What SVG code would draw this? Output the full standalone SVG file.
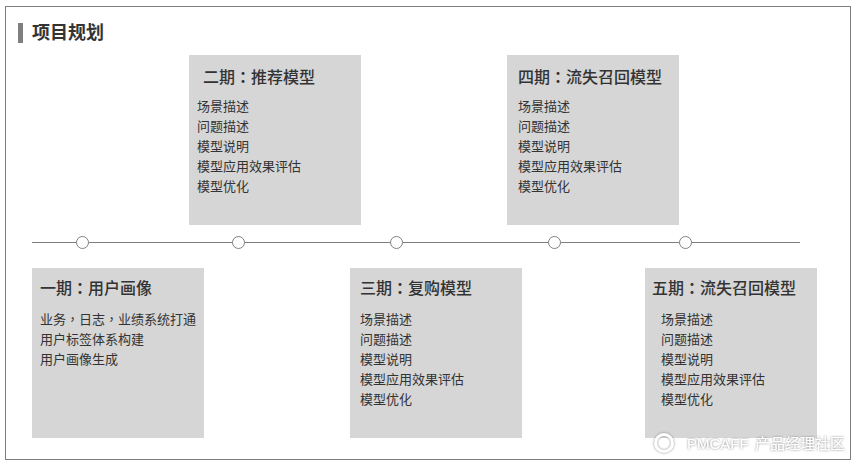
<svg xmlns="http://www.w3.org/2000/svg" width="856" height="464" viewBox="0 0 856 464">
<defs>
<filter id="soft" x="-10%" y="-50%" width="120%" height="200%"><feDropShadow dx="0" dy="0" stdDeviation="1" flood-color="#707070" flood-opacity=".9"/></filter>
</defs>
<style>
text{font-family:"Noto Sans CJK SC","Liberation Sans",sans-serif;fill:#333}
.p{font-family:"Noto Sans CJK TC","Liberation Sans",sans-serif}
.box{fill:#d6d6d6}
.h{font-size:16px;font-weight:500}
.b{font-size:13px}
.line{stroke:#7f7f7f;stroke-width:1;fill:none}
.dot{fill:#fff;stroke:#7f7f7f;stroke-width:1}
text.wm{font-size:15px;fill:#fff}
</style>
<rect x="5.500" y="6.500" width="845" height="453" fill="#fff" stroke="#7f7f7f"/>
<g id="title">
<rect x="18" y="23" width="5" height="20" fill="#7f7f7f"/>
<text x="32" y="39" font-size="18" font-weight="700">项目规划</text>
</g>
<g id="connectors">
<line class="line" x1="32" y1="242.500" x2="800" y2="242.500"/>
</g>
<g id="dot1"><circle class="dot" cx="82.500" cy="242.500" r="6"/></g>
<g id="dot2"><circle class="dot" cx="238.500" cy="242.500" r="6"/></g>
<g id="dot3"><circle class="dot" cx="396.500" cy="242.500" r="6"/></g>
<g id="dot4"><circle class="dot" cx="554.500" cy="242.500" r="6"/></g>
<g id="dot5"><circle class="dot" cx="685.500" cy="242.500" r="6"/></g>
<g id="phase2">
<rect class="box" x="189" y="55" width="172" height="170"/>
<text class="h" x="203" y="83">二期<tspan class="p" font-weight="700">：</tspan>推荐模型</text>
<text class="b" x="197" y="111">场景描述</text><text class="b" x="197" y="131">问题描述</text><text class="b" x="197" y="151">模型说明</text><text class="b" x="197" y="171">模型应用效果评估</text><text class="b" x="197" y="191">模型优化</text>
</g>
<g id="phase4">
<rect class="box" x="507" y="55" width="172" height="170"/>
<text class="h" x="518" y="83">四期<tspan class="p" font-weight="700">：</tspan>流失召回模型</text>
<text class="b" x="518" y="111">场景描述</text><text class="b" x="518" y="131">问题描述</text><text class="b" x="518" y="151">模型说明</text><text class="b" x="518" y="171">模型应用效果评估</text><text class="b" x="518" y="191">模型优化</text>
</g>
<g id="phase1">
<rect class="box" x="32" y="268" width="172" height="170"/>
<text class="h" x="40" y="294">一期<tspan class="p" font-weight="700">：</tspan>用户画像</text>
<text class="b" x="40" y="324">业务<tspan class="p">，</tspan>日志<tspan class="p">，</tspan>业绩系统打通</text><text class="b" x="40" y="344">用户标签体系构建</text><text class="b" x="40" y="364">用户画像生成</text>
</g>
<g id="phase3">
<rect class="box" x="350" y="268" width="172" height="170"/>
<text class="h" x="360" y="294">三期<tspan class="p" font-weight="700">：</tspan>复购模型</text>
<text class="b" x="360" y="324">场景描述</text><text class="b" x="360" y="344">问题描述</text><text class="b" x="360" y="364">模型说明</text><text class="b" x="360" y="384">模型应用效果评估</text><text class="b" x="360" y="404">模型优化</text>
</g>
<g id="phase5">
<rect class="box" x="645" y="268" width="172" height="170"/>
<text class="h" x="652" y="294">五期<tspan class="p" font-weight="700">：</tspan>流失召回模型</text>
<text class="b" x="661" y="324">场景描述</text><text class="b" x="661" y="344">问题描述</text><text class="b" x="661" y="364">模型说明</text><text class="b" x="661" y="384">模型应用效果评估</text><text class="b" x="661" y="404">模型优化</text>
</g>
<g id="watermark" filter="url(#soft)">
<circle cx="664" cy="443" r="8.500" fill="none" stroke="#fff" stroke-width="3"/>
<text class="wm" x="687" y="449" style="font-family:'Liberation Sans',sans-serif">PMCAFF</text>
<text class="wm" x="755" y="449">产品经理社区</text>
</g>
</svg>
